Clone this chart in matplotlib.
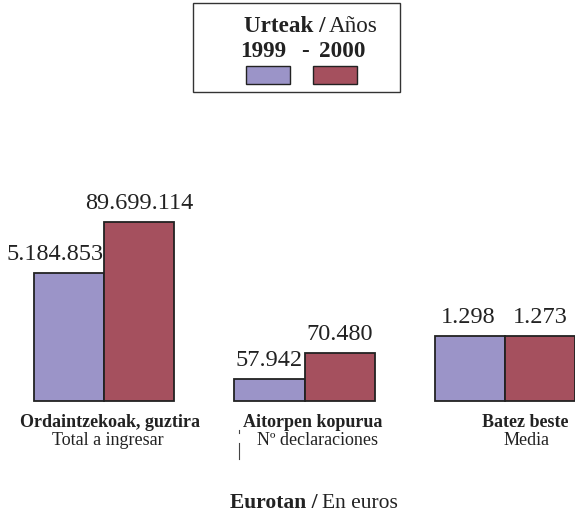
import numpy as np
import matplotlib
matplotlib.use("Agg")
import matplotlib.pyplot as plt
from matplotlib.patches import Rectangle

plt.rcParams['font.family'] = ['Liberation Serif', 'DejaVu Serif']

# datos
grupos_eu = ["Ordaintzekoak, guztira", "Aitorpen kopurua", "Batez beste"]
grupos_es = ["Total a ingresar", "Nº declaraciones", "Media"]
etiq_1999 = ["5.184.853", "57.942", "1.298"]
etiq_2000 = ["89.699.114", "70.480", "1.273"]
# alturas visuales de las barras
altura_1999 = [128, 22, 65]
altura_2000 = [179, 48, 65]

col_1999 = "#9b94c8"
col_2000 = "#a5505e"
negro = "#222222"

fig = plt.figure(figsize=(5.75, 5.16), dpi=100)
ax = fig.add_axes([0, 0, 1, 1])
ax.set_xlim(-0.519, 2.349)
ax.set_ylim(-115, 401)
ax.axis("off")

x = np.arange(len(grupos_eu))
w = 0.35
ax.bar(x - w / 2, altura_1999, w, color=col_1999, edgecolor=negro, linewidth=1.3)
ax.bar(x + w / 2, altura_2000, w, color=col_2000, edgecolor=negro, linewidth=1.3)

# etiquetas de valores y de grupos
desp = [-0.07, 0, -0.01]
desp_eu = [0.03, 0.042, 0.1]
desp_es = [0.02, 0.067, 0.105]
for i in range(len(x)):
    ax.text(x[i] - w / 2 + desp[i], altura_1999[i] + 8, etiq_1999[i], ha="center",
            va="bottom", fontsize=17.5, color=negro)
    ax.text(x[i] + w / 2, altura_2000[i] + 8, etiq_2000[i], ha="center",
            va="bottom", fontsize=17.5, color=negro)
    ax.text(x[i] + desp_eu[i], -13, grupos_eu[i], ha="center", va="top",
            fontsize=13, fontweight="bold", color=negro)
    ax.text(x[i] + desp_es[i], -31, grupos_es[i], ha="center", va="top",
            fontsize=13, color=negro)

# pequeñas marcas sueltas
ax.plot([0.674, 0.674], [-29, -32], color="#444444", lw=0.8)
ax.plot([0.674, 0.674], [-42, -58], color="#444444", lw=0.8)

# titulo inferior
fig.text(318 / 575, 1 - 508 / 516, "Eurotan /", ha="right", va="baseline", fontsize=15.5,
         fontweight="bold", color=negro)
fig.text(322 / 575, 1 - 508 / 516, "En euros", ha="left", va="baseline", fontsize=15.5,
         color=negro)

# leyenda
fig.patches.append(Rectangle((193 / 575, 1 - 92 / 516), 207 / 575, 89 / 516,
                             transform=fig.transFigure, facecolor="white",
                             edgecolor="#333333", linewidth=1.0))
fig.text(325 / 575, 1 - 32 / 516, "Urteak /", ha="right", va="baseline", fontsize=16.7,
         fontweight="bold", color=negro)
fig.text(329 / 575, 1 - 32 / 516, "Años", ha="left", va="baseline", fontsize=16.7,
         color=negro)
fig.text(240 / 575, 1 - 57 / 516, "1999", ha="left", va="baseline", fontsize=16.7,
         fontweight="bold", color=negro)
fig.text(305 / 575, 1 - 57 / 516, "-", ha="center", va="baseline", fontsize=16.7,
         fontweight="bold", color=negro)
fig.text(366 / 575, 1 - 57 / 516, "2000", ha="right", va="baseline", fontsize=16.7,
         fontweight="bold", color=negro)
fig.patches.append(Rectangle((246 / 575, 1 - 84 / 516), 44 / 575, 18 / 516,
                             transform=fig.transFigure, facecolor=col_1999,
                             edgecolor=negro, linewidth=1.0))
fig.patches.append(Rectangle((313 / 575, 1 - 84 / 516), 44 / 575, 18 / 516,
                             transform=fig.transFigure, facecolor=col_2000,
                             edgecolor=negro, linewidth=1.0))

fig.savefig("out.png", dpi=100)
